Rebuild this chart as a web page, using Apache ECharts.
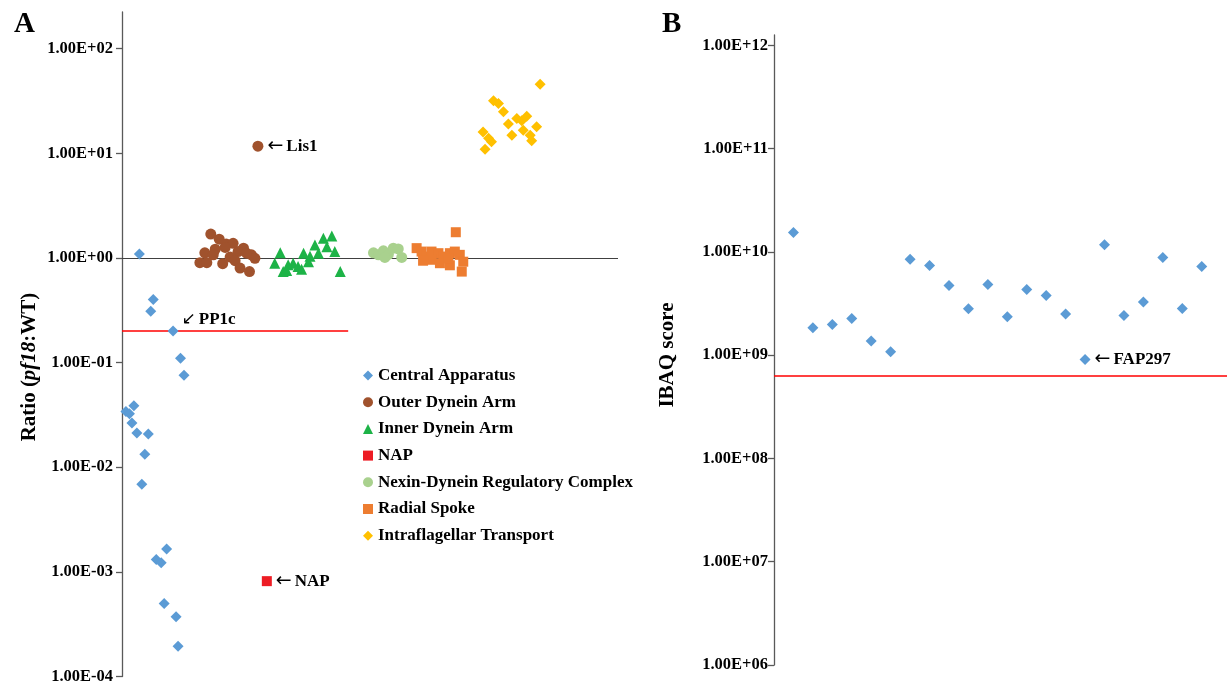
<!DOCTYPE html>
<html>
<head>
<meta charset="utf-8">
<script src="https://cdn.jsdelivr.net/npm/echarts@6/dist/echarts.min.js"></script>
<style>
html,body{margin:0;padding:0;background:#fff;}
#chart{width:1227px;height:685px;}
</style>
</head>
<body>
<div id="chart"></div>
<script>
// ---------- Panel A data (x = jitter position, y = ratio pf18:WT) ----------
const caX  = [3.5, 6.3, 5.8, 10.3, 11.8, 12.5, 2.4, 0.8, 1.5, 2.0, 3.0, 5.3, 4.6, 4.0, 9.0, 6.9, 7.9, 8.5, 10.9, 11.3];
const caY  = [1.09, 0.40, 0.31, 0.20, 0.110, 0.0758, 0.0387, 0.034, 0.0325, 0.0265, 0.0212, 0.0208, 0.0133, 0.00687, 0.00165, 0.00131, 0.00122, 0.000499, 0.000373, 0.000195];
const odaX = [17.9, 19.6, 21.0, 22.4, 20.8, 24.5, 23.4, 16.7, 18.8, 18.4, 26.1, 26.8, 21.8, 22.8, 15.7, 17.1, 20.3, 23.8, 25.7, 25.1, 27.4];
const odaY = [1.69, 1.51, 1.36, 1.38, 1.26, 1.24, 1.15, 1.12, 1.21, 1.07, 1.07, 0.99, 1.02, 0.94, 0.90, 0.90, 0.88, 0.80, 0.74, 1.11, 11.7];
const idaX = [31.9, 30.8, 32.5, 33.2, 33.5, 34.5, 35.5, 36.6, 37.9, 36.2, 37.6, 38.9, 39.6, 40.6, 41.3, 42.3, 42.9, 44.0];
const idaY = [1.12, 0.89, 0.74, 0.76, 0.86, 0.89, 0.83, 1.11, 1.04, 0.78, 0.92, 1.33, 1.11, 1.54, 1.28, 1.62, 1.15, 0.74];
const napX = [29.2];
const napY = [0.000815];
const ndrcX = [50.7, 51.7, 52.7, 53.7, 54.7, 55.7, 56.4, 53.0];
const ndrcY = [1.12, 1.07, 1.17, 1.08, 1.24, 1.22, 1.01, 1.01];
const rsX = [67.3, 59.4, 60.4, 61.4, 62.4, 63.8, 64.8, 66.1, 67.1, 68.1, 68.8, 62.4, 64.1, 66.1, 68.5, 60.7, 65.8];
const rsY = [1.76, 1.24, 1.15, 1.03, 1.15, 1.11, 1.03, 1.11, 1.15, 1.07, 0.92, 0.96, 0.89, 0.85, 0.74, 0.94, 0.99];
const iftX = [84.3, 74.9, 75.9, 76.9, 79.6, 80.6, 81.6, 77.9, 83.6, 80.9, 78.6, 82.3, 72.8, 73.9, 74.5, 82.6, 73.2];
const iftY = [45.7, 31.7, 29.9, 24.9, 21.5, 20.4, 22.6, 19.0, 17.9, 16.6, 14.9, 14.9, 16.0, 13.9, 12.9, 13.2, 10.9];
const seriesNamesA = ['Central Apparatus', 'Outer Dynein Arm', 'Inner Dynein Arm', 'NAP',
  'Nexin-Dynein Regulatory Complex', 'Radial Spoke', 'Intraflagellar Transport'];
const ticksA = [1e-4, 1e-3, 1e-2, 1e-1, 1e0, 1e1, 1e2];
const unityLineA = 1;
const thresholdA = 0.2;
const thresholdAEndX = 45.6;

// ---------- Panel B data (protein index, iBAQ score) ----------
const ibaqX = [1,2,3,4,5,6,7,8,9,10,11,12,13,14,15,16,17,18,19,20,21,22];
const ibaqY = [1.54e10, 1.84e9, 1.98e9, 2.26e9, 1.37e9, 1.08e9, 8.5e9, 7.4e9, 4.73e9, 2.81e9, 4.83e9,
  2.35e9, 4.33e9, 3.78e9, 2.51e9, 9.1e8, 1.17e10, 2.42e9, 3.28e9, 8.83e9, 2.83e9, 7.23e9];
const ticksB = [1e6, 1e7, 1e8, 1e9, 1e10, 1e11, 1e12];
const thresholdB = 6.3e8;

// ---------- styling ----------
const FONT = '"Liberation Serif", "Times New Roman", serif';
const AXC = '#595959';
const colors = ['#5B9BD5', '#A0522D', '#1DB347', '#ED1C24', '#A9D18E', '#ED7D31', '#FFC000'];
const symbols = ['diamond', 'circle', 'triangle', 'rect', 'circle', 'rect', 'diamond'];
const sizes = [11, 11, 11, 10, 11, 10, 11];

function sci(v) {
  const e = Math.round(Math.log10(v));
  const s = e < 0 ? '-' : '+';
  const a = Math.abs(e);
  return '1.00E' + s + (a < 10 ? '0' + a : a);
}

function zip(xs, ys) { return xs.map((x, i) => [x, ys[i]]); }

const annLabel = (txt, arrow, extra, arrowSize) => Object.assign({
  show: true,
  position: 'right',
  distance: 4,
  formatter: '{a|' + arrow + '}{t|' + txt + '}',
  rich: {
    a: { fontFamily: '"DejaVu Sans", sans-serif', fontSize: arrowSize || 19, color: '#000', padding: [0, 3, 0, 0] },
    t: { fontFamily: FONT, fontWeight: 'bold', fontSize: 17, color: '#000' }
  }
}, extra || {});

const setsA = [zip(caX, caY), zip(odaX, odaY), zip(idaX, idaY), zip(napX, napY),
  zip(ndrcX, ndrcY), zip(rsX, rsY), zip(iftX, iftY)];

function dataFor(i) {
  return setsA[i].map(p => {
    const d = { value: p };
    if (i === 0 && p[1] === thresholdA) {
      d.label = annLabel('PP1c', '↙', { position: 'right', offset: [-1, -11] }, 17);
    }
    if (i === 1 && p[1] > 5) d.label = annLabel('Lis1', '←');
    if (i === 3) d.label = annLabel('NAP', '←');
    return d;
  });
}

const seriesA = seriesNamesA.map((name, i) => ({
  name: name,
  type: 'scatter',
  xAxisIndex: 0,
  yAxisIndex: 0,
  symbol: symbols[i],
  symbolSize: sizes[i],
  itemStyle: { color: colors[i], opacity: 1 },
  z: 5,
  data: dataFor(i)
}));

// reference lines for panel A
seriesA.push({
  type: 'scatter', xAxisIndex: 0, yAxisIndex: 0, data: [], z: 1, silent: true,
  markLine: {
    silent: true, symbol: 'none', animation: false,
    label: { show: false },
    data: [
      { yAxis: unityLineA, lineStyle: { color: '#404040', width: 1, type: 'solid' } },
      [{ coord: [0, thresholdA], lineStyle: { color: '#FF0000', width: 1.5, type: 'solid' } },
       { coord: [thresholdAEndX, thresholdA] }]
    ]
  }
});

const seriesB = [{
  name: 'iBAQ',
  type: 'scatter',
  xAxisIndex: 1,
  yAxisIndex: 1,
  symbol: 'diamond',
  symbolSize: 11,
  itemStyle: { color: '#5B9BD5', opacity: 1 },
  z: 5,
  data: zip(ibaqX, ibaqY).map((p, i) => {
    const d = { value: p };
    if (p[1] < 1e9 && p[1] > 8e8) d.label = annLabel('FAP297', '←');
    return d;
  }),
  markLine: {
    silent: true, symbol: 'none', animation: false, label: { show: false },
    data: [{ yAxis: thresholdB, lineStyle: { color: '#FF0000', width: 1.5, type: 'solid' } }]
  }
}];

function logAxis(gi, min, max, ticks, margin) {
  return {
    type: 'log', logBase: 10, gridIndex: gi, min: min, max: max,
    splitLine: { show: false },
    axisLine: { show: true, lineStyle: { color: AXC, width: 1.3 } },
    axisTick: { show: true, inside: false, length: 6, lineStyle: { color: AXC, width: 1.3 }, customValues: ticks },
    axisLabel: {
      show: true, customValues: ticks, margin: margin,
      fontFamily: FONT, fontWeight: 'bold', fontSize: 16.5, color: '#000',
      formatter: sci
    }
  };
}

const chart = echarts.init(document.getElementById('chart'), null, { renderer: 'canvas' });
chart.setOption({
  animation: false,
  backgroundColor: '#fff',
  grid: [
    { left: 122, top: 12, width: 496, height: 665 },
    { left: 774, top: 35, width: 453, height: 630 }
  ],
  xAxis: [
    { type: 'value', gridIndex: 0, min: 0, max: 100, show: false },
    { type: 'value', gridIndex: 1, min: 0, max: 23.3, show: false }
  ],
  yAxis: [
    logAxis(0, 1e-4, Math.pow(10, 2.35), ticksA, 9),
    logAxis(1, 1e6, Math.pow(10, 12.1), ticksB, 6)
  ],
  legend: {
    data: seriesNamesA,
    orient: 'vertical',
    left: 358, top: 362,
    itemWidth: 10, itemHeight: 10, itemGap: 9.7,
    textStyle: { fontFamily: FONT, fontWeight: 'bold', fontSize: 17, color: '#000', lineHeight: 17 },
    selectedMode: false
  },
  graphic: [
    { type: 'text', left: 14, top: 10, style: { text: 'A', font: 'bold 29px ' + FONT, fill: '#000' } },
    { type: 'text', left: 662, top: 10, style: { text: 'B', font: 'bold 29px ' + FONT, fill: '#000' } },
    { type: 'text', x: 30, y: 367, rotation: Math.PI / 2,
      style: {
        text: '{n|Ratio (}{i|pf18}{n|:WT)}',
        align: 'center', verticalAlign: 'middle',
        rich: {
          n: { fontFamily: FONT, fontWeight: 'bold', fontSize: 21, fill: '#000' },
          i: { fontFamily: FONT, fontWeight: 'bold', fontStyle: 'italic', fontSize: 21, fill: '#000' }
        }
      } },
    { type: 'text', x: 668, y: 355, rotation: Math.PI / 2,
      style: { text: 'IBAQ score', align: 'center', verticalAlign: 'middle',
        font: 'bold 21px ' + FONT, fill: '#000' } }
  ],
  series: seriesA.concat(seriesB)
});
</script>
</body>
</html>
